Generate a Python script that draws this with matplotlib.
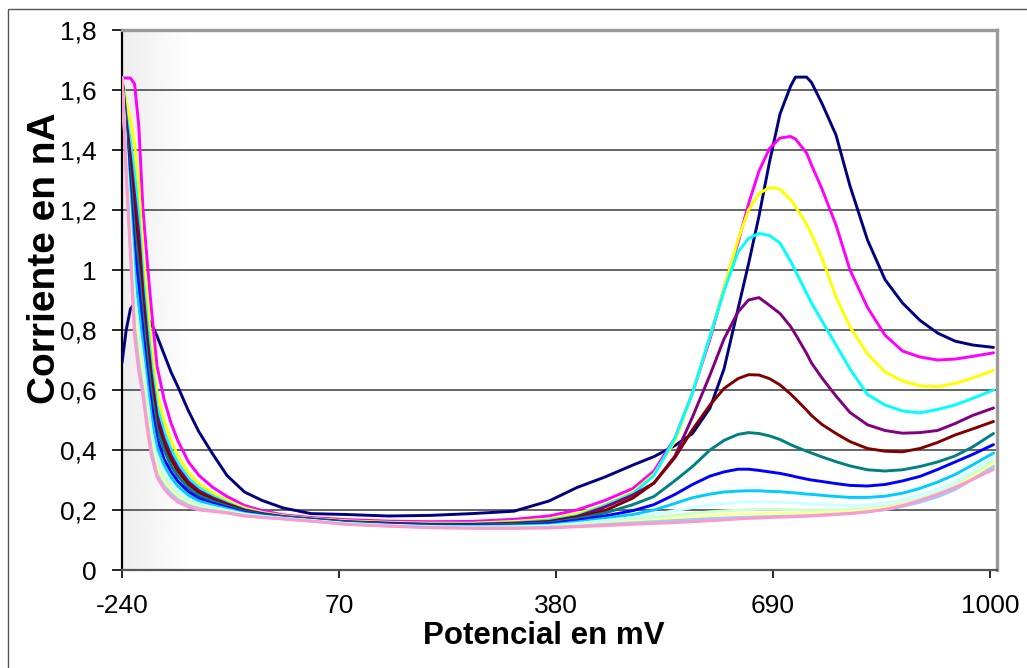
import numpy as np
import matplotlib
matplotlib.use("Agg")
import matplotlib.pyplot as plt
from matplotlib.patches import Rectangle

# ---------------- data ----------------
potential_mV = [-240, -234, -228, -222, -216, -210, -204, -198, -190, -180,
                -170, -160, -145, -130, -110, -90, -65, -40, -10, 30,
                80, 140, 200, 260, 320, 370,
                410, 450, 490, 520, 550, 575, 600, 620, 640, 655,
                670, 685, 700, 715, 722, 738, 745, 760, 780, 800, 825,
                850, 875, 900, 925, 950, 975, 1005]

s01_navy = [0.69, 0.80, 0.87, 0.89, 0.88, 0.86, 0.84, 0.82, 0.78, 0.72,
            0.66, 0.61, 0.53, 0.46, 0.385, 0.315, 0.26, 0.232, 0.207, 0.188,
            0.185, 0.18, 0.182, 0.188, 0.196, 0.23,
            0.275, 0.31, 0.35, 0.378, 0.415, 0.455, 0.54, 0.67, 0.87, 1.02,
            1.18, 1.36, 1.52, 1.612, 1.643, 1.643, 1.625, 1.555, 1.45, 1.28, 1.10,
            0.968, 0.89, 0.832, 0.79, 0.763, 0.75, 0.742]
s02_magenta = [1.64, 1.64, 1.64, 1.62, 1.48, 1.20, 1.03, 0.87, 0.68, 0.57,
               0.49, 0.43, 0.36, 0.315, 0.275, 0.245, 0.215, 0.198, 0.184, 0.175,
               0.168, 0.163, 0.161, 0.162, 0.169, 0.18,
               0.2, 0.232, 0.272, 0.33, 0.44, 0.59, 0.77, 0.94, 1.09, 1.22,
               1.33, 1.405, 1.44, 1.445, 1.437, 1.39, 1.35, 1.27, 1.15, 1.0, 0.875,
               0.783, 0.73, 0.71, 0.70, 0.703, 0.712, 0.724]
s03_yellow = [1.64, 1.56, 1.50, 1.42, 1.28, 1.05, 0.90, 0.75, 0.59, 0.50,
              0.431, 0.381, 0.324, 0.287, 0.256, 0.232, 0.207, 0.192, 0.181, 0.172,
              0.164, 0.159, 0.156, 0.156, 0.162, 0.17,
              0.187, 0.218, 0.26, 0.32, 0.43, 0.59, 0.78, 0.94, 1.1, 1.2,
              1.255, 1.275, 1.27, 1.235, 1.212, 1.152, 1.12, 1.04, 0.91, 0.81, 0.72,
              0.66, 0.63, 0.614, 0.611, 0.622, 0.64, 0.665]
s04_cyan = [1.64, 1.52, 1.43, 1.32, 1.18, 0.98, 0.83, 0.69, 0.547, 0.462,
            0.402, 0.357, 0.306, 0.274, 0.246, 0.225, 0.202, 0.19, 0.179, 0.171,
            0.162, 0.157, 0.154, 0.154, 0.158, 0.166,
            0.181, 0.215, 0.255, 0.315, 0.44, 0.59, 0.78, 0.93, 1.06, 1.105,
            1.122, 1.115, 1.09, 1.03, 0.997, 0.923, 0.89, 0.83, 0.75, 0.67, 0.585,
            0.55, 0.53, 0.524, 0.535, 0.55, 0.572, 0.6]
s05_purple = [1.64, 1.50, 1.38, 1.25, 1.12, 0.93, 0.78, 0.65, 0.517, 0.438,
              0.382, 0.34, 0.294, 0.264, 0.24, 0.221, 0.2, 0.188, 0.178, 0.17,
              0.161, 0.156, 0.152, 0.152, 0.156, 0.162,
              0.178, 0.21, 0.25, 0.29, 0.38, 0.51, 0.65, 0.77, 0.86, 0.9,
              0.908, 0.882, 0.855, 0.812, 0.786, 0.722, 0.69, 0.64, 0.58, 0.525, 0.484,
              0.465, 0.456, 0.458, 0.465, 0.488, 0.515, 0.54]
s06_maroon = [1.64, 1.48, 1.35, 1.20, 1.07, 0.89, 0.75, 0.625, 0.495, 0.42,
              0.368, 0.328, 0.285, 0.258, 0.235, 0.218, 0.198, 0.187, 0.177, 0.169,
              0.16, 0.155, 0.151, 0.151, 0.154, 0.16,
              0.176, 0.198, 0.24, 0.29, 0.375, 0.468, 0.55, 0.605, 0.638, 0.651,
              0.65, 0.638, 0.617, 0.587, 0.571, 0.533, 0.515, 0.485, 0.455, 0.428, 0.405,
              0.396, 0.394, 0.405, 0.425, 0.45, 0.47, 0.495]
s07_teal = [1.64, 1.45, 1.30, 1.13, 1.0, 0.84, 0.71, 0.59, 0.47, 0.40,
            0.348, 0.312, 0.273, 0.248, 0.229, 0.213, 0.195, 0.185, 0.176, 0.168,
            0.159, 0.153, 0.149, 0.149, 0.152, 0.157,
            0.171, 0.19, 0.218, 0.245, 0.298, 0.345, 0.4, 0.432, 0.452, 0.458,
            0.455, 0.447, 0.435, 0.418, 0.411, 0.396, 0.39, 0.377, 0.361, 0.347, 0.334,
            0.33, 0.334, 0.345, 0.36, 0.38, 0.41, 0.455]
s08_blue = [1.64, 1.43, 1.25, 1.07, 0.94, 0.79, 0.66, 0.55, 0.44, 0.37,
            0.328, 0.295, 0.261, 0.239, 0.222, 0.209, 0.192, 0.183, 0.175, 0.167,
            0.157, 0.152, 0.148, 0.147, 0.149, 0.154,
            0.166, 0.18, 0.198, 0.218, 0.252, 0.285, 0.313, 0.327, 0.336, 0.336,
            0.332, 0.327, 0.322, 0.315, 0.311, 0.303, 0.3, 0.295, 0.288, 0.282, 0.28,
            0.285, 0.297, 0.312, 0.335, 0.36, 0.385, 0.418]
s09_sky = [1.64, 1.40, 1.20, 1.0, 0.87, 0.74, 0.62, 0.51, 0.41, 0.35,
           0.309, 0.279, 0.249, 0.23, 0.216, 0.204, 0.189, 0.181, 0.174, 0.166,
           0.156, 0.15, 0.146, 0.145, 0.147, 0.15,
           0.16, 0.172, 0.185, 0.2, 0.222, 0.241, 0.253, 0.26, 0.263, 0.264,
           0.264, 0.262, 0.261, 0.258, 0.257, 0.253, 0.252, 0.249, 0.245, 0.242, 0.242,
           0.246, 0.256, 0.272, 0.293, 0.318, 0.35, 0.39]
s10_lightcyan = [1.64, 1.37, 1.15, 0.92, 0.80, 0.69, 0.57, 0.46, 0.37, 0.32,
                 0.287, 0.261, 0.236, 0.22, 0.209, 0.199, 0.186, 0.179, 0.172, 0.165,
                 0.155, 0.149, 0.144, 0.143, 0.144, 0.147,
                 0.155, 0.165, 0.175, 0.185, 0.198, 0.208, 0.217, 0.222, 0.226, 0.228,
                 0.228, 0.227, 0.226, 0.224, 0.223, 0.221, 0.22, 0.218, 0.216, 0.215, 0.217,
                 0.223, 0.234, 0.25, 0.27, 0.295, 0.33, 0.375]
s11_lightgreen = [1.64, 1.36, 1.12, 0.88, 0.76, 0.65, 0.54, 0.44, 0.35, 0.31,
                  0.274, 0.25, 0.228, 0.214, 0.205, 0.197, 0.184, 0.178, 0.172, 0.164,
                  0.154, 0.148, 0.143, 0.142, 0.143, 0.145,
                  0.152, 0.16, 0.168, 0.175, 0.183, 0.189, 0.194, 0.197, 0.2, 0.201,
                  0.202, 0.202, 0.202, 0.201, 0.201, 0.2, 0.2, 0.2, 0.2, 0.201, 0.205,
                  0.212, 0.223, 0.238, 0.258, 0.283, 0.318, 0.365]
s12_lightyellow = [1.64, 1.35, 1.10, 0.85, 0.73, 0.63, 0.51, 0.42, 0.34, 0.29,
                   0.265, 0.242, 0.222, 0.209, 0.201, 0.194, 0.183, 0.177, 0.171, 0.164,
                   0.153, 0.147, 0.143, 0.141, 0.141, 0.143,
                   0.148, 0.155, 0.162, 0.167, 0.173, 0.177, 0.181, 0.184, 0.186, 0.187,
                   0.188, 0.189, 0.189, 0.19, 0.19, 0.19, 0.191, 0.192, 0.193, 0.195, 0.2,
                   0.207, 0.218, 0.232, 0.25, 0.275, 0.31, 0.355]
s13_paleblue = [1.64, 1.33, 1.07, 0.81, 0.69, 0.60, 0.49, 0.40, 0.32, 0.28,
                0.255, 0.234, 0.216, 0.205, 0.198, 0.192, 0.181, 0.176, 0.171, 0.163,
                0.153, 0.147, 0.142, 0.140, 0.140, 0.142,
                0.146, 0.152, 0.157, 0.161, 0.165, 0.168, 0.171, 0.173, 0.175, 0.176,
                0.177, 0.178, 0.179, 0.18, 0.18, 0.181, 0.182, 0.184, 0.186, 0.189, 0.194,
                0.201, 0.212, 0.226, 0.244, 0.268, 0.302, 0.345]
s14_pink = [1.64, 1.32, 1.05, 0.78, 0.66, 0.58, 0.47, 0.38, 0.31, 0.27,
            0.245, 0.226, 0.21, 0.20, 0.195, 0.19, 0.18, 0.175, 0.17, 0.163,
            0.152, 0.146, 0.141, 0.139, 0.139, 0.14,
            0.144, 0.148, 0.152, 0.155, 0.158, 0.161, 0.164, 0.167, 0.17, 0.172,
            0.173, 0.175, 0.176, 0.177, 0.178, 0.179, 0.18, 0.182, 0.185, 0.188, 0.194,
            0.202, 0.215, 0.232, 0.252, 0.275, 0.302, 0.335]

series = [s01_navy, s02_magenta, s03_yellow, s04_cyan, s05_purple, s06_maroon,
          s07_teal, s08_blue, s09_sky, s10_lightcyan, s11_lightgreen,
          s12_lightyellow, s13_paleblue, s14_pink]
colors = ["#000080", "#FF00FF", "#FFFF00", "#00FFFF", "#800080", "#800000",
          "#008080", "#0000FF", "#00CCFF", "#CCFFFF", "#CCFFCC", "#FFFF99",
          "#99CCFF", "#FF99CC"]

xtick_values = [-240, 70, 380, 690, 1000]
xtick_labels = ["-240", "70", "380", "690", "1000"]
ytick_values = [0, 0.2, 0.4, 0.6, 0.8, 1.0, 1.2, 1.4, 1.6, 1.8]
ytick_labels = ["0", "0,2", "0,4", "0,6", "0,8", "1", "1,2", "1,4", "1,6", "1,8"]

# ---------------- figure ----------------
W, H = 1027, 668
fig = plt.figure(figsize=(W / 100, H / 100), dpi=100)
fig.patch.set_facecolor("white")

# outer chart border (only left/top visible in the reference)
fig.patches.append(Rectangle((8 / W, -0.05), 1.2, 1 - 9 / H + 0.05,
                             transform=fig.transFigure, fill=False,
                             edgecolor="#555555", linewidth=1.0))

ax = fig.add_axes([122 / W, (H - 570) / H, (997 - 122) / W, (570 - 30) / H])
ax.set_xlim(-240, 1010)
ax.set_ylim(0, 1.8)

# grey gradient strip at the left of the plot area
grad = np.linspace(0.93, 1.0, 256).reshape(1, -1)
ax.imshow(grad, cmap="gray", vmin=0, vmax=1, aspect="auto",
          extent=[0, 0.08, 0, 1], transform=ax.transAxes, zorder=0)

# horizontal gridlines
for yv in ytick_values[1:-1]:
    ax.axhline(yv, color="#3c3c3c", linewidth=1.1, zorder=1)

for ys, c in zip(series, colors):
    ax.plot(potential_mV, ys, color=c, linewidth=2.1, zorder=3,
            solid_joinstyle="round", solid_capstyle="round")

tick_font = ["Liberation Sans", "DejaVu Sans"]
ax.set_xticks(xtick_values)
ax.set_xticklabels(xtick_labels, fontfamily=tick_font, fontsize=19)
ax.set_yticks(ytick_values)
ax.set_yticklabels(ytick_labels, fontfamily=tick_font, fontsize=19)
ax.tick_params(axis="x", direction="out", length=6, width=1.2, pad=11, colors="black")
ax.tick_params(axis="y", direction="out", length=7, width=1.2, pad=11, colors="black")

ax.spines["left"].set_color("black")
ax.spines["left"].set_linewidth(1.6)
ax.spines["bottom"].set_color("#555555")
ax.spines["bottom"].set_linewidth(1.6)
for s in ("top", "right"):
    ax.spines[s].set_color("#9a9a9a")
    ax.spines[s].set_linewidth(2.4)

fig.text(544 / W, 1 - 636 / H, "Potencial en mV", ha="center", va="center",
         fontfamily=tick_font, fontweight="bold", fontsize=22.5)
fig.text(45 / W, 1 - 258 / H, "Corriente en nA", ha="center", va="center",
         rotation=90, fontfamily=tick_font, fontweight="bold", fontsize=28)

fig.savefig("out.png", dpi=100, facecolor="white")
